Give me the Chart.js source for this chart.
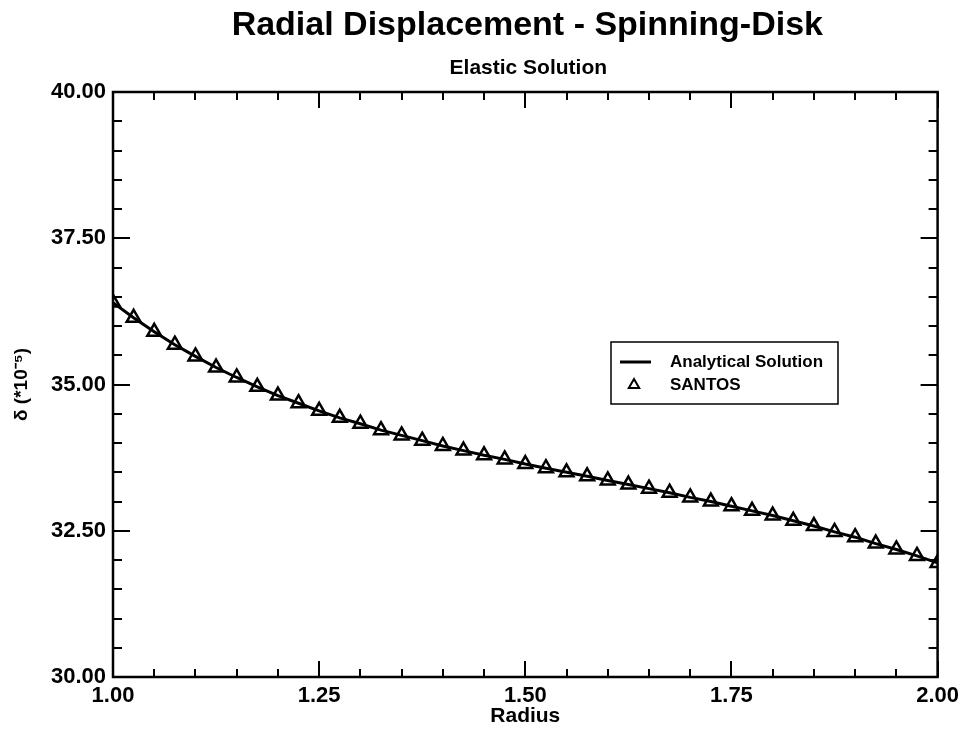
<!DOCTYPE html>
<html lang="en">
<head>
    <meta charset="UTF-8">
    <title>Radial Displacement - Spinning-Disk</title>
    <script src="https://cdn.jsdelivr.net/npm/chart.js@4.4.0/dist/chart.umd.min.js"></script>
    <style>
        body { margin: 0; background: #fff; }
    </style>
</head>
<body>
    <canvas id="myChart" width="965" height="732"></canvas>

    <script>
        // data
        const radius = [1.000, 1.025, 1.050, 1.075, 1.100, 1.125, 1.150, 1.175, 1.200, 1.225,
                        1.250, 1.275, 1.300, 1.325, 1.350, 1.375, 1.400, 1.425, 1.450, 1.475,
                        1.500, 1.525, 1.550, 1.575, 1.600, 1.625, 1.650, 1.675, 1.700, 1.725,
                        1.750, 1.775, 1.800, 1.825, 1.850, 1.875, 1.900, 1.925, 1.950, 1.975, 2.000]
        const analytical = [36.40, 36.14, 35.90, 35.68, 35.48, 35.29, 35.12, 34.96, 34.81, 34.68,
                            34.55, 34.43, 34.33, 34.22, 34.13, 34.04, 33.95, 33.87, 33.79, 33.72,
                            33.64, 33.57, 33.50, 33.43, 33.36, 33.29, 33.22, 33.15, 33.07, 33.00,
                            32.92, 32.84, 32.76, 32.67, 32.58, 32.48, 32.39, 32.28, 32.18, 32.07, 31.95]
        const santos = [36.40, 36.14, 35.90, 35.68, 35.48, 35.29, 35.12, 34.96, 34.81, 34.68,
                        34.55, 34.43, 34.33, 34.22, 34.13, 34.04, 33.95, 33.87, 33.79, 33.72,
                        33.64, 33.57, 33.50, 33.43, 33.36, 33.29, 33.22, 33.15, 33.07, 33.00,
                        32.92, 32.84, 32.76, 32.67, 32.58, 32.48, 32.39, 32.28, 32.18, 32.07, 31.95]

        const titleText = 'Radial Displacement - Spinning-Disk'
        const subtitleText = 'Elastic Solution'
        const xTitle = 'Radius'
        const yTitle = 'δ (*10⁻⁵)'

        const xRange = [1.0, 2.0]
        const yRange = [30.0, 40.0]
        const xMajor = 0.25, xMinor = 0.05
        const yMajor = 2.5, yMinor = 0.5

        const FONT = '"Liberation Sans", Arial, sans-serif'

        function toPoints(xs, ys) {
            return xs.map((x, i) => ({ x: x, y: ys[i] }))
        }

        // frame + inward ticks on all four sides
        const framePlugin = {
            id: 'frame',
            afterDatasetsDraw(chart) {
                const ctx = chart.ctx
                const a = chart.chartArea
                const xs = chart.scales.x
                const ys = chart.scales.y
                ctx.save()
                ctx.strokeStyle = '#000'
                ctx.lineWidth = 2
                for (let v = xRange[0]; v <= xRange[1] + 1e-9; v += xMinor) {
                    const px = Math.round(xs.getPixelForValue(v))
                    const major = Math.abs(v / xMajor - Math.round(v / xMajor)) < 1e-6
                    const len = major ? 16 : 8
                    ctx.beginPath()
                    ctx.moveTo(px, a.bottom); ctx.lineTo(px, a.bottom - len)
                    ctx.moveTo(px, a.top); ctx.lineTo(px, a.top + len)
                    ctx.stroke()
                }
                for (let v = yRange[0]; v <= yRange[1] + 1e-9; v += yMinor) {
                    const py = Math.round(ys.getPixelForValue(v))
                    const major = Math.abs(v / yMajor - Math.round(v / yMajor)) < 1e-6
                    const len = major ? 17 : 9
                    ctx.beginPath()
                    ctx.moveTo(a.left, py); ctx.lineTo(a.left + len, py)
                    ctx.moveTo(a.right, py); ctx.lineTo(a.right - len, py)
                    ctx.stroke()
                }
                ctx.lineWidth = 2.5
                ctx.strokeRect(a.left, a.top, a.right - a.left, a.bottom - a.top)
                ctx.restore()
            }
        }

        // titles centred over the plot area
        const titlesPlugin = {
            id: 'titles',
            afterDraw(chart) {
                const ctx = chart.ctx
                const a = chart.chartArea
                const cx = (a.left + a.right) / 2
                ctx.save()
                ctx.fillStyle = '#000'
                ctx.textAlign = 'center'
                ctx.textBaseline = 'alphabetic'
                ctx.font = 'bold 34px ' + FONT
                ctx.fillText(titleText, cx + 2, 35)
                ctx.font = 'bold 21px ' + FONT
                ctx.fillText(subtitleText, cx + 3, 74)
                ctx.restore()
            }
        }

        // boxed legend inside the plot
        const legendPlugin = {
            id: 'boxLegend',
            afterDraw(chart) {
                const ctx = chart.ctx
                const ds = chart.data.datasets
                const bx = 611, by = 342, bw = 227, bh = 62
                ctx.save()
                ctx.fillStyle = '#fff'
                ctx.fillRect(bx, by, bw, bh)
                ctx.strokeStyle = '#000'
                ctx.lineWidth = 1.5
                ctx.strokeRect(bx, by, bw, bh)

                // line sample
                ctx.lineWidth = 3
                ctx.beginPath()
                ctx.moveTo(bx + 9, by + 20); ctx.lineTo(bx + 40, by + 20)
                ctx.stroke()

                // triangle sample
                const tx = bx + 23, ty = by + 43, r = 6
                ctx.lineWidth = 2
                ctx.beginPath()
                ctx.moveTo(tx, ty - r)
                ctx.lineTo(tx + r * 0.866, ty + r * 0.5)
                ctx.lineTo(tx - r * 0.866, ty + r * 0.5)
                ctx.closePath()
                ctx.stroke()

                ctx.fillStyle = '#000'
                ctx.font = 'bold 17px ' + FONT
                ctx.textAlign = 'left'
                ctx.textBaseline = 'middle'
                ctx.fillText(ds[0].label, bx + 59, by + 20)
                ctx.fillText(ds[1].label, bx + 59, by + 43)
                ctx.restore()
            }
        }

        const ctx = document.getElementById('myChart').getContext('2d')
        const myChart = new Chart(ctx, {
            type: 'scatter',
            data: {
                datasets: [
                    {
                        label: 'Analytical Solution',
                        data: toPoints(radius, analytical),
                        showLine: true,
                        borderColor: '#000',
                        borderWidth: 3,
                        pointRadius: 0,
                        tension: 0,
                        order: 2
                    },
                    {
                        label: 'SANTOS',
                        data: toPoints(radius, santos),
                        showLine: false,
                        pointStyle: 'triangle',
                        pointRadius: 8,
                        pointBorderWidth: 2.5,
                        pointBorderColor: '#000',
                        pointBackgroundColor: 'rgba(255,255,255,0)',
                        order: 1
                    }
                ]
            },
            options: {
                responsive: false,
                animation: false,
                layout: {
                    padding: { top: 92, right: 24, bottom: 0, left: 0 }
                },
                scales: {
                    x: {
                        type: 'linear',
                        min: xRange[0],
                        max: xRange[1],
                        grid: { display: false, drawTicks: false },
                        border: { display: false },
                        ticks: {
                            stepSize: xMajor,
                            autoSkip: false,
                            maxRotation: 0,
                            padding: 6,
                            color: '#000',
                            font: { family: FONT, size: 22, weight: 'bold' },
                            callback: v => v.toFixed(2)
                        },
                        title: {
                            display: true,
                            text: xTitle,
                            color: '#000',
                            padding: { top: 0, bottom: 3 },
                            font: { family: FONT, size: 21, weight: 'bold' }
                        },
                        afterFit(scale) { scale.height = 55 }
                    },
                    y: {
                        min: yRange[0],
                        max: yRange[1],
                        grid: { display: false, drawTicks: false },
                        border: { display: false },
                        ticks: {
                            stepSize: yMajor,
                            padding: 7,
                            color: '#000',
                            font: { family: FONT, size: 22, weight: 'bold' },
                            callback: v => v.toFixed(2)
                        },
                        title: {
                            display: true,
                            text: yTitle,
                            color: '#000',
                            padding: { top: 10, bottom: 0 },
                            font: { family: FONT, size: 19, weight: 'bold' }
                        },
                        afterFit(scale) { scale.width = 113 }
                    }
                },
                plugins: {
                    legend: { display: false },
                    tooltip: { enabled: false }
                }
            },
            plugins: [framePlugin, titlesPlugin, legendPlugin]
        })
    </script>
</body>
</html>
